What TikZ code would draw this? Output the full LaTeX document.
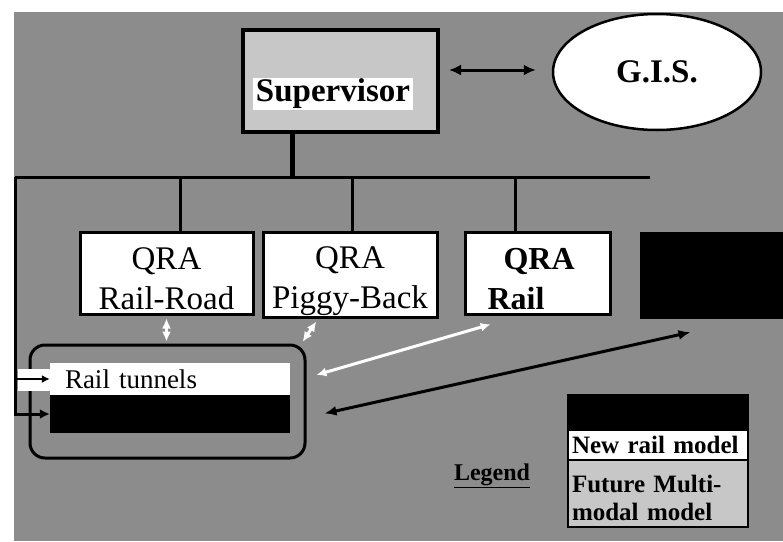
\documentclass[tikz,border=0pt]{standalone}
\usepackage{fontspec}
\setmainfont{Liberation Serif}
\usetikzlibrary{shapes.geometric,arrows.meta}
\begin{document}
\begin{tikzpicture}[x=1pt,y=-1pt,
  qra/.style={draw=black, line width=3pt, fill=white, inner sep=0pt, minimum height=82pt,
    font=\fontsize{33}{40}\selectfont, align=center},
  bus/.style={line width=3pt, draw=black},
  warrow/.style={draw=white, line width=3pt, shorten <=3pt, shorten >=2pt, {Latex[length=10pt,width=9pt]}-{Latex[length=10pt,width=9pt]}},
  barrow/.style={draw=black, line width=3pt, {Latex[length=12pt,width=10pt]}-{Latex[length=12pt,width=10pt]}},
  legrow/.style={draw=black, line width=2pt, inner ysep=0pt, minimum width=180pt,
    font=\fontsize{25}{28}\selectfont\bfseries}
]
\useasboundingbox (0,0) rectangle (783,541);
\fill[black!45] (14,12) rectangle (783,541);

% Supervisor
\node[draw=black, line width=4pt, fill=black!22, minimum width=195pt, minimum height=102pt, inner sep=0pt] (sup) at (340.5,81) {};
\node[fill=white, minimum width=160pt, minimum height=32pt, inner sep=0pt,
  font=\fontsize{33}{38}\selectfont\bfseries] (suptext) at (333,94) {Supervisor};

% GIS
\node[ellipse, draw=black, line width=2.5pt, fill=white, minimum width=208pt, minimum height=116pt,
  font=\fontsize{33}{38}\selectfont\bfseries] (gis) at (657,72) {G.I.S.};
\draw[draw=black, line width=3pt, {Latex[length=12pt,width=11pt]}-{Latex[length=12pt,width=11pt]}]
  ([xshift=9pt,yshift=11pt]sup.east) -- ([xshift=-16pt,yshift=2pt]gis.west);

% bus
\coordinate (stem) at (292,177);
\coordinate (busL) at (15,177);
\coordinate (busR) at (650,177);
\coordinate (d1) at (180,177);
\coordinate (d2) at (352,177);
\coordinate (d3) at (515,177);
\draw[line width=5pt] (sup.south -| stem) -- (stem);
\draw[bus] (busL) -- (busR);

% QRA boxes
\node[qra, minimum width=173pt] (rr) at (166.5,273) {\rule{0pt}{34pt}QRA\\Rail-Road};
\node[qra, minimum width=174pt, minimum height=85pt] (pb) at (350,275) {\rule{0pt}{34pt}QRA\\Piggy-Back};
\node[qra, minimum width=145pt, text width=100pt, align=left, font=\fontsize{32}{40}\selectfont\bfseries] (qr) at (537.5,273) {\rule{0pt}{34pt}\hspace*{16pt}QRA\\Rail};
\node[fill=black, inner sep=0pt, minimum width=143pt, minimum height=87pt] (blk) at (711.5,275.5) {};

\draw[bus] (d1) -- (d1 |- rr.north);
\draw[bus] (d2) -- (d2 |- pb.north);
\draw[bus] (d3) -- (d3 |- qr.north);

% group
\node[draw=black, line width=3pt, rounded corners=15pt, minimum width=275pt, minimum height=113pt, inner sep=0pt] (grp) at (167.5,401.5) {};
\node[fill=white, inner xsep=15pt, inner ysep=0pt, text width=210pt, align=left, minimum height=32pt,
  font=\fontsize{27}{30}\selectfont] (rt) at (170,379) {Rail tunnels};
\node[fill=black, inner sep=0pt, minimum width=240pt, minimum height=38pt] (bar) at (170,414) {};
\fill[white] (18,369) rectangle (50,391);
\draw[line width=1.5pt, -{Latex[length=8pt,width=8pt]}] (busL |- rt.west) -- (rt.west);
\draw[bus, -{Latex[length=10pt,width=10pt]}] (busL) |- (bar.west);

% white arrows
\draw[warrow] (rr.south) -- (rr.south |- grp.north);
\draw[warrow] ([xshift=-32pt]pb.south) -- ([xshift=-5pt]grp.north east);
\draw[warrow] ([xshift=-44pt,yshift=-8pt]qr.south) -- ([xshift=8pt,yshift=26pt]grp.east);

% black arrow
\draw[barrow] ([xshift=18pt,yshift=-12pt]grp.east) -- ([xshift=-21pt,yshift=-13pt]blk.south);

% legend
\node[legrow, fill=black, minimum height=35pt] (lg1) at (658,412.5) {};
\node[legrow, fill=white, minimum height=30pt, inner xsep=4pt, text width=172pt, align=left] (lg2) at (658,445) {New rail model};
\node[legrow, fill=black!22, minimum height=67pt, inner xsep=4pt, text width=172pt, align=left] (lg3) at (658,493.5) {\rule{0pt}{26pt}Future Multi-\\modal model};
\node[font=\fontsize{24}{28}\selectfont\bfseries] (leg) at (492,476) {\underline{Legend}};
\end{tikzpicture}
\end{document}
